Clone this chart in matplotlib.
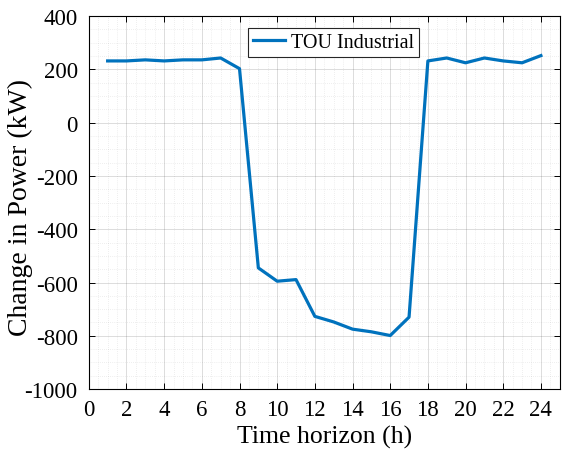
import matplotlib.pyplot as plt
from matplotlib.ticker import MultipleLocator

# hourly change in power, TOU industrial customer
hours = list(range(1, 25))
change_kw = [232, 232, 236, 232, 236, 236, 243, 203,
             -545, -595, -589, -727, -748, -775, -785, -799,
             -730, 232, 243, 225, 243, 232, 225, 252]
x_ticks = list(range(0, 25, 2))
y_ticks = list(range(-1000, 401, 200))

plt.rcParams['font.family'] = ['Liberation Serif', 'DejaVu Serif']
plt.rcParams['axes.unicode_minus'] = False

fig = plt.figure(figsize=(5.62, 4.52), dpi=100)
ax = fig.add_axes([0.158, 0.137, 0.838, 0.825])

ax.plot(hours, change_kw, color='#0072BD', linewidth=2.3, label='TOU Industrial')

ax.set_xlim(0, 25)
ax.set_ylim(-1000, 400)
ax.set_xticks(x_ticks)
ax.set_yticks(y_ticks)
ax.xaxis.set_minor_locator(MultipleLocator(0.5))
ax.yaxis.set_minor_locator(MultipleLocator(50))

ax.grid(which='major', color='#262626', alpha=0.18, linewidth=0.6)
ax.grid(which='minor', color='#262626', alpha=0.15, linewidth=0.5, linestyle=(0, (1, 2)))
ax.tick_params(which='both', direction='in', top=True, right=True, labelsize=16.5)
ax.tick_params(which='major', length=4, width=0.7)
ax.tick_params(axis='x', which='major', pad=7)
ax.tick_params(axis='y', which='major', pad=8)
ax.tick_params(which='minor', length=0)
for s in ax.spines.values():
    s.set_linewidth(0.8)

ax.set_xlabel('Time horizon (h)', fontsize=18.5, labelpad=4)
ax.set_ylabel('Change in Power (kW)', fontsize=20)
ax.yaxis.set_label_coords(-0.119, 0.49)

leg = ax.legend(loc='upper center', bbox_to_anchor=(0.52, 0.995), fontsize=14.5,
                fancybox=False, edgecolor='#262626', framealpha=1,
                handlelength=1.6, borderpad=0.25, handletextpad=0.3)
leg.get_frame().set_linewidth(0.8)

fig.savefig('out.png', dpi=100)
